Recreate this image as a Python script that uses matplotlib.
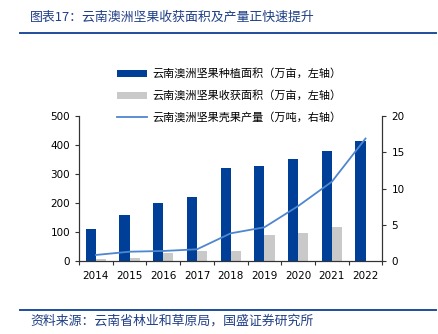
import numpy as np
import matplotlib
matplotlib.use("Agg")
import matplotlib.pyplot as plt
from matplotlib.lines import Line2D

plt.rcParams['font.family'] = ['Noto Sans CJK SC', 'DejaVu Sans']

years = ['2014', '2015', '2016', '2017', '2018', '2019', '2020', '2021', '2022']
planted = [110, 159, 200, 220, 320, 329, 352, 378, 413]      # 万亩
harvested = [8, 11, 28, 35, 35, 89, 96, 117, 0]              # 万亩
output = [0.87, 1.32, 1.42, 1.65, 3.85, 4.68, 7.6, 10.95, 16.9]  # 万吨

navy = '#003f98'
grey = '#c9c9c9'
line_c = '#4f86d0'
text_blue = '#1f3f86'

fig = plt.figure(figsize=(4.39, 3.34), dpi=100)
ax = fig.add_axes([0.18, 0.2177, 0.691, 0.435])
ax2 = ax.twinx()

x = np.arange(len(years))
w = 0.3
b1 = ax.bar(x - w / 2, planted, width=w, color=navy, zorder=2)
b2 = ax.bar(x + w / 2, harvested, width=w, color=grey, zorder=2)
ln, = ax2.plot(x, output, color=line_c, lw=1.3, zorder=3)

ax.set_xlim(-0.5, len(years) - 0.5)
ax.set_ylim(0, 500)
ax2.set_ylim(0, 20)
ax.set_yticks(range(0, 501, 100))
ax2.set_yticks(range(0, 21, 5))

# ticks at category boundaries, labels at centres
ax.set_xticks(np.arange(-0.5, len(years), 1))
ax.set_xticklabels([])
ax.set_xticks(x, minor=True)
ax.set_xticklabels(years, minor=True)
ax.tick_params(axis='x', which='major', direction='out', length=3, color='#333333')
ax.tick_params(axis='x', which='minor', length=0, pad=7, labelsize=7.5)
ax.tick_params(axis='y', direction='out', length=3, labelsize=7.5, color='#333333')
ax2.tick_params(axis='y', direction='out', length=3, labelsize=7.5, color='#333333')

for a in (ax, ax2):
    a.spines['top'].set_visible(False)
    for s in ('left', 'right', 'bottom'):
        a.spines[s].set_color('#333333')
        a.spines[s].set_linewidth(0.8)
    for lab in a.get_xticklabels(which='both') + a.get_yticklabels():
        lab.set_family('DejaVu Sans')

handles = [b1, b2, Line2D([0], [0], color=line_c, lw=1.3)]
labels = ['云南澳洲坚果种植面积（万亩，左轴）',
          '云南澳洲坚果收获面积（万亩，左轴）',
          '云南澳洲坚果壳果产量（万吨，右轴）']
fig.legend(handles, labels, loc='upper left', bbox_to_anchor=(0.266, 0.795),
           frameon=False, fontsize=8, handlelength=2.7, handleheight=0.55,
           handletextpad=0.5, labelspacing=1.0, borderpad=0, borderaxespad=0)

# header and footer
fig.text(0.068, 0.948, '图表17：云南澳洲坚果收获面积及产量正快速提升',
         fontsize=9.3, color=text_blue, va='center', ha='left', style='italic')
fig.add_artist(Line2D([0.046, 0.993], [0.9, 0.9], color='#1f4e9c', lw=1.4))
fig.add_artist(Line2D([0.046, 0.993], [0.072, 0.072], color='#1f4e9c', lw=1.4))
fig.text(0.068, 0.04, '资料来源：云南省林业和草原局，国盛证券研究所',
         fontsize=9.3, color=text_blue, va='center', ha='left', style='italic')

fig.savefig('out.png', dpi=100)
